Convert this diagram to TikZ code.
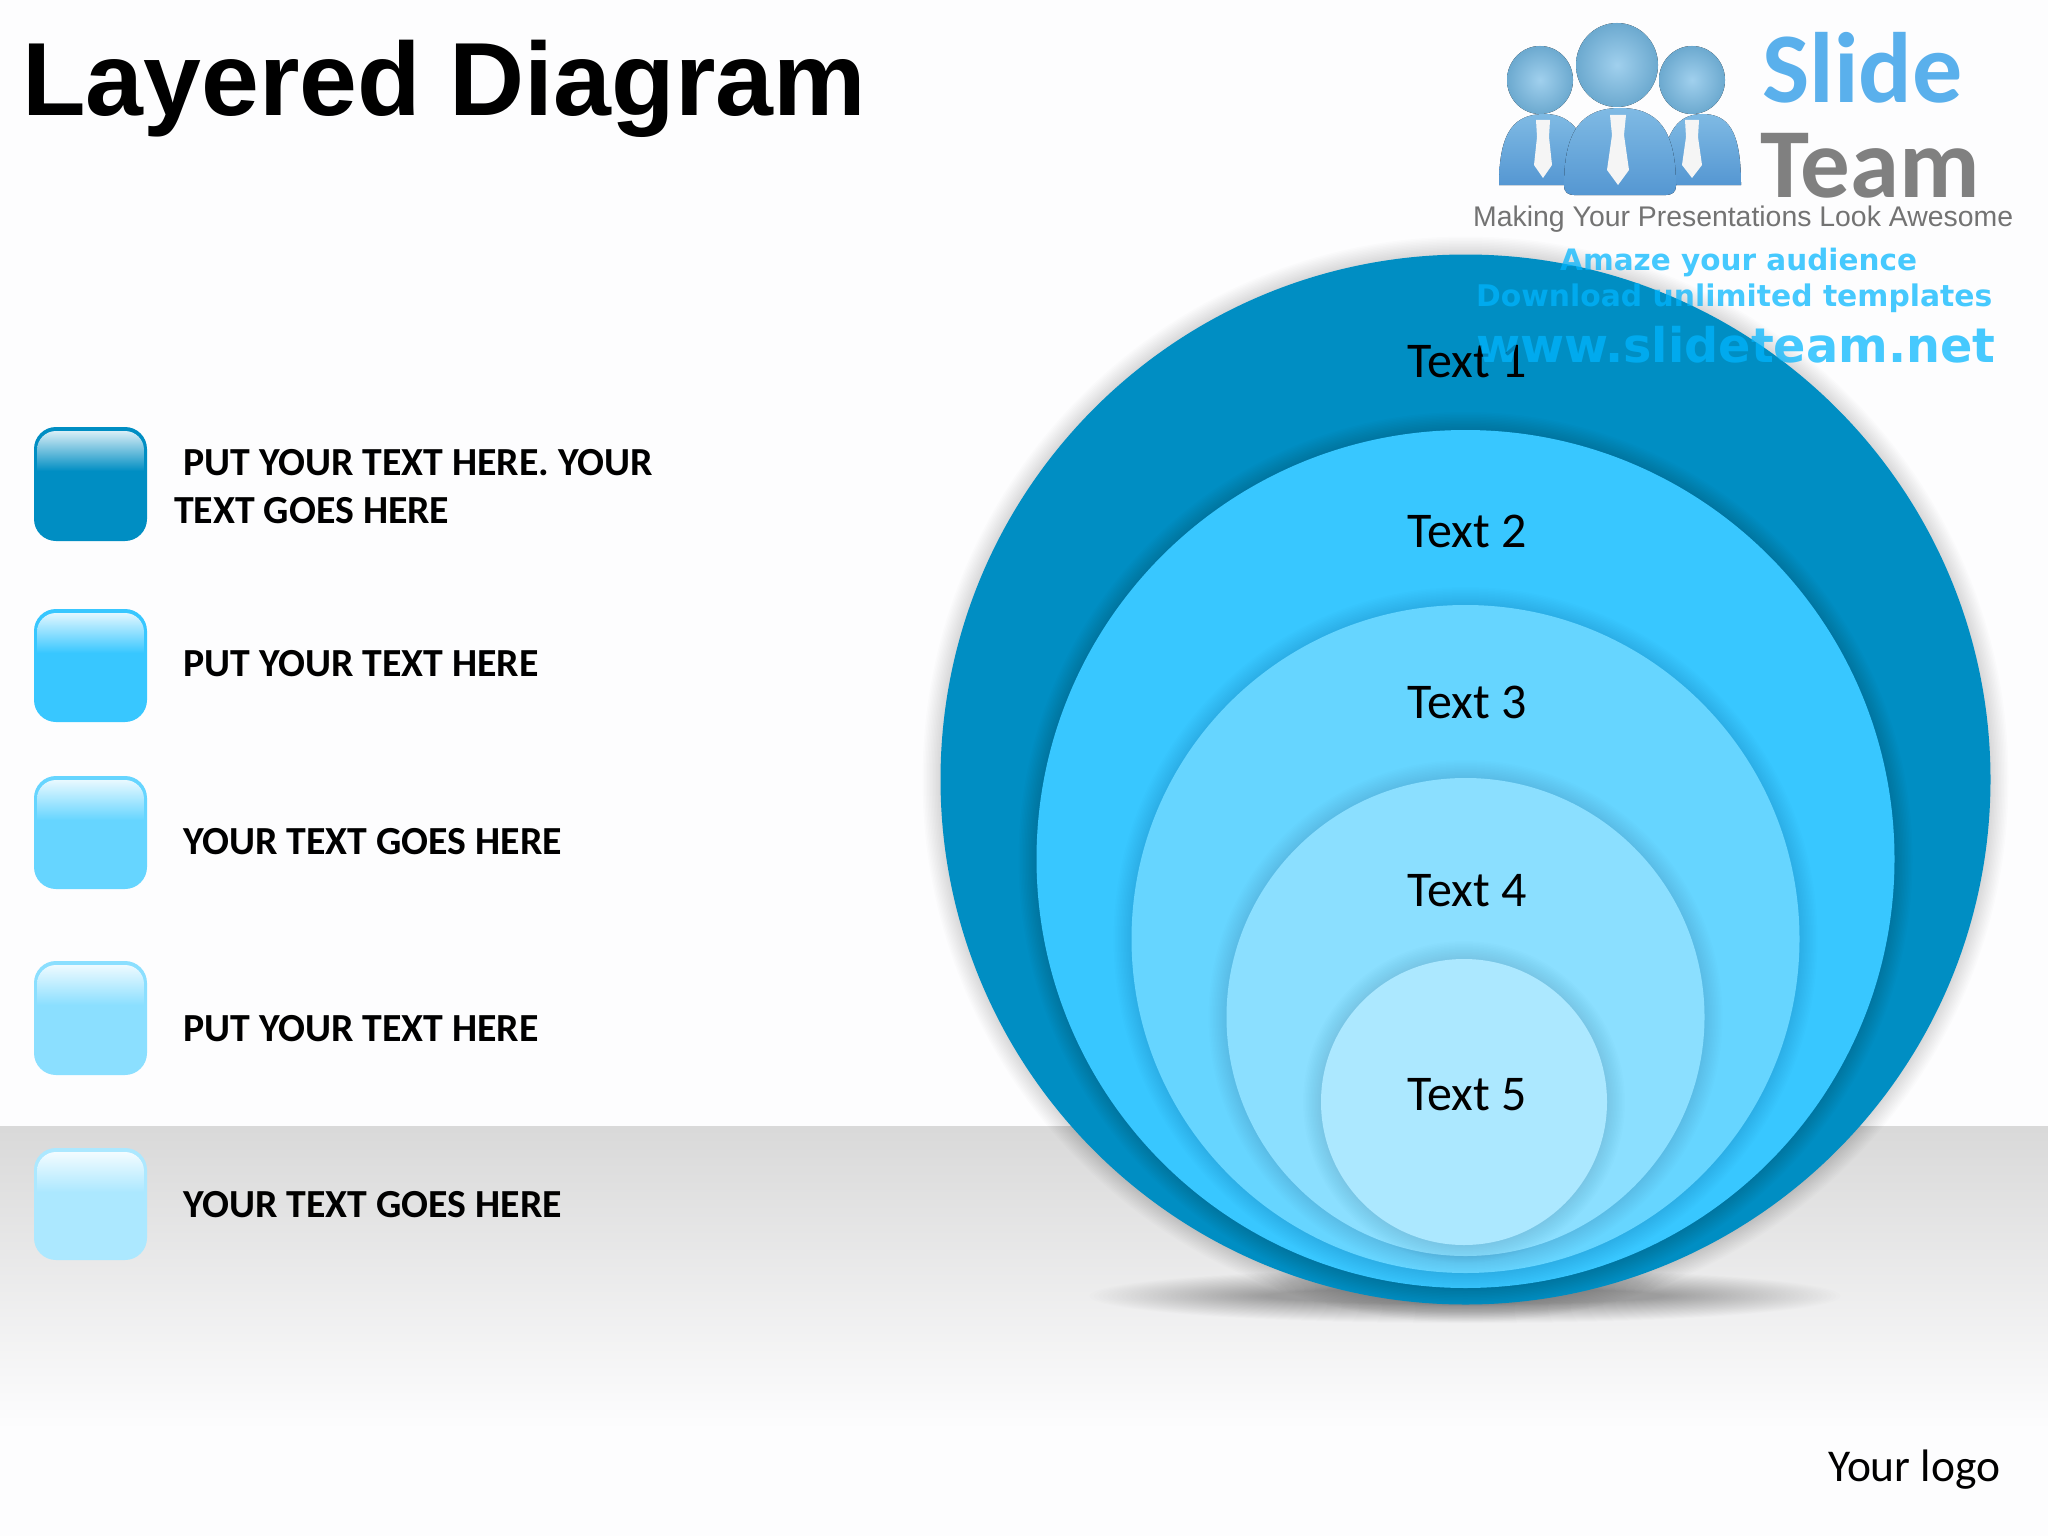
\documentclass[tikz,border=0pt]{standalone}
\usepackage{fontspec}
\setmainfont{Carlito}
\newfontfamily\arialf{Liberation Sans}
\newfontfamily\wmf{DejaVu Sans}
\usetikzlibrary{shapes.geometric}
\definecolor{cA}{HTML}{008EC3}
\definecolor{cB}{HTML}{38C7FF}
\definecolor{cC}{HTML}{66D5FF}
\definecolor{cD}{HTML}{8BDFFF}
\definecolor{cE}{HTML}{ACE8FF}
\definecolor{wm}{HTML}{00B5FF}
\definecolor{pageBg}{HTML}{FDFDFE}
\definecolor{logoHead}{HTML}{78BCE6}
\definecolor{logoTop}{HTML}{7FBAE4}
\definecolor{logoBot}{HTML}{5597D2}
\definecolor{slideBlue}{HTML}{5AB0EC}
\tikzset{
  legendtext/.style={anchor=base west,inner sep=0pt,font=\fontsize{39.8}{40}\selectfont\bfseries,text=black},
  ringtext/.style={anchor=base,inner sep=0pt,font=\fontsize{50}{50}\selectfont,text=black},
  wmtext/.style={anchor=base west,inner sep=0pt,text=wm,text opacity=.72},
  logobody/.style={top color=logoTop,bottom color=logoBot},
  logohead/.style={inner color=logoHead!70!white,outer color=logoHead!90!black},
  tiepart/.style={fill=black!4},
}
\newcommand{\softshadow}[4]{% cx cy r opacity
  \foreach \k in {1,...,12}{
    \fill[black,opacity=#4] (#1,#2) circle[radius={#3+\k*1.5pt}];
  }
}
\newcommand{\legendbox}[4]{% name, colour, top y, bottom y
  \path[fill=#2,rounded corners=22pt] (34,#3) rectangle (147,#4) coordinate (#1);
  \begin{scope}
    \clip[rounded corners=19pt] (37,#3+4) rectangle (144,#4-3);
    \shade[top color=white!85!#2,bottom color=#2] (37,#3+4) rectangle (144,#3+44);
  \end{scope}
}
\begin{document}
\begin{tikzpicture}[x=1pt,y=-1pt]
\useasboundingbox (0,0) rectangle (2048,1536);
\fill[pageBg] (0,0) rectangle (2048,1536);
\shade[top color=black!15,bottom color=pageBg] (0,1126) rectangle (2048,1430);
% floor shadow
\foreach \k in {1,...,40}{
  \fill[black,opacity=.0095] (1465,1296) ellipse[x radius={380-\k*4.5pt},y radius={28-\k*0.5pt}];
}
% logo figures
\fill[logobody] (1499,185) .. controls (1499,130) and (1515,114) .. (1545,114) .. controls (1572,114) and (1590,135) .. (1590,185) -- cycle;
\fill[logobody] (1662,185) .. controls (1662,135) and (1676,114) .. (1702,114) .. controls (1728,114) and (1741,130) .. (1741,185) -- cycle;
\fill[logobody] (1564,186) .. controls (1564,130) and (1582,108) .. (1620,108) .. controls (1658,108) and (1676,130) .. (1676,186) .. controls (1676,192) and (1672,195) .. (1666,195) -- (1574,195) .. controls (1568,195) and (1564,192) .. (1564,186) -- cycle;
\fill[logohead] (1540,80) ellipse[x radius=33pt,y radius=34pt];
\fill[logohead] (1692,80) ellipse[x radius=33pt,y radius=34pt];
\fill[logohead] (1617,65) ellipse[x radius=41pt,y radius=42pt];
\fill[tiepart] (1610,115) -- (1626,115) -- (1624,135) -- (1629,170) -- (1618,185) -- (1607,170) -- (1612,135) -- cycle;
\fill[tiepart] (1536,120) -- (1550,120) -- (1549,137) -- (1552,165) -- (1543,178) -- (1534,165) -- (1537,137) -- cycle;
\fill[tiepart] (1685,120) -- (1699,120) -- (1698,137) -- (1702,165) -- (1692,178) -- (1682,165) -- (1686,137) -- cycle;
\node[anchor=base west,inner sep=0pt,text=slideBlue,font=\fontsize{100}{100}\selectfont\bfseries] (slide) at (1762,103) {Slide};
\node[anchor=base west,inner sep=0pt,text=black!50,font=\fontsize{99}{99}\selectfont\bfseries] (team) at (1760,197) {Team};
\node[anchor=base west,inner sep=0pt,text=black!55,font=\arialf\fontsize{28.4}{29}\selectfont] (tag) at (1473,226) {Making Your Presentations Look Awesome};
% circles
\softshadow{1465.5}{779.5}{525pt}{.012}
\fill[cA] (1465.5,779.5) circle[radius=525pt];
\softshadow{1465.5}{859}{429pt}{.012}
\fill[cB] (1465.5,859) circle[radius=429pt];
\softshadow{1465.5}{939}{334pt}{.007}
\fill[cC] (1465.5,939) circle[radius=334pt];
\softshadow{1465.5}{1017}{239pt}{.007}
\fill[cD] (1465.5,1017) circle[radius=239pt];
\softshadow{1464}{1102}{143pt}{.007}
\fill[cE] (1464,1102) circle[radius=143pt];
\node[ringtext] (t1) at (1467,377) {Text 1};
\node[ringtext] (t2) at (1467,547) {Text 2};
\node[ringtext] (t3) at (1467,718) {Text 3};
\node[ringtext] (t4) at (1467,906) {Text 4};
\node[ringtext] (t5) at (1467,1110) {Text 5};
% watermark
\node[wmtext,font=\wmf\fontsize{29.5}{30}\selectfont\bfseries] (w1) at (1560,270) {Amaze your audience};
\node[wmtext,font=\wmf\fontsize{29.8}{30}\selectfont\bfseries] (w2) at (1476,306) {Download unlimited templates};
\node[wmtext,font=\wmf\fontsize{47.7}{48}\selectfont\bfseries] (w3) at (1476,362) {www.slideteam.net};
% title
\node[anchor=base west,inner sep=0pt,font=\arialf\fontsize{104}{104}\selectfont\bfseries] (title) at (22,116) {Layered Diagram};
% legend
\legendbox{b1}{cA}{427}{541}
\legendbox{b2}{cB}{609}{722}
\legendbox{b3}{cC}{776}{889}
\legendbox{b4}{cD}{961}{1075}
\legendbox{b5}{cE}{1148}{1260}
\node[legendtext] (l1a) at (183,475) {PUT YOUR TEXT HERE. YOUR};
\node[legendtext] (l1b) at (174,523) {TEXT GOES HERE};
\node[legendtext] (l2) at (183,676) {PUT YOUR TEXT HERE};
\node[legendtext] (l3) at (183,854) {YOUR TEXT GOES HERE};
\node[legendtext] (l4) at (183,1041) {PUT YOUR TEXT HERE};
\node[legendtext] (l5) at (183,1217) {YOUR TEXT GOES HERE};
\node[anchor=base west,inner sep=0pt,font=\fontsize{45.5}{46}\selectfont] (logo) at (1828,1481) {Your logo};
\end{tikzpicture}
\end{document}
